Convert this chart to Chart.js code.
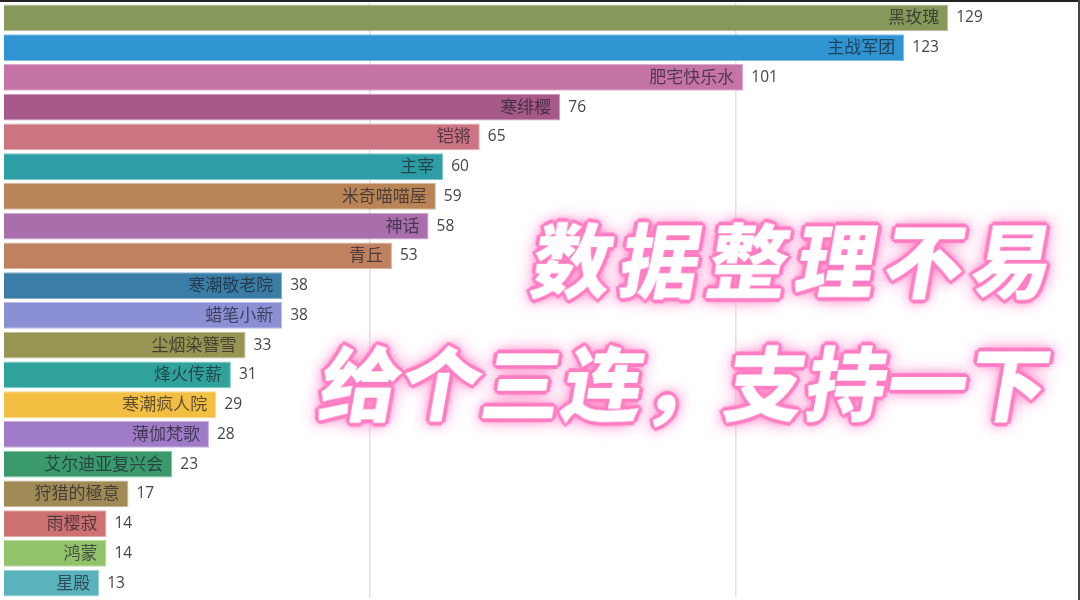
<!DOCTYPE html>
<html>
<head>
<meta charset="utf-8">
<script src="https://cdn.jsdelivr.net/npm/chart.js@4/dist/chart.umd.min.js"></script>
<style>
  html, body { margin: 0; padding: 0; background: #fff; }
  #wrap { position: relative; width: 1080px; height: 600px; overflow: hidden; }
  #c { position: absolute; left: 0; top: 0; }
  .frameTop { position: absolute; left: 0; top: 0; width: 1080px; height: 2px; background: #222; }
  .frameRight { position: absolute; right: 0; top: 0; width: 2px; height: 600px; background: #444; }
  .slogan {
    position: absolute;
    font-family: "Noto Sans CJK SC", sans-serif; font-weight: 900;
    font-size: 80px; line-height: 1; color: #fff; white-space: nowrap;
    transform: skewX(-10deg);
    text-shadow:
      3px 0 #ff7cc2, -3px 0 #ff7cc2, 0 3px #ff7cc2, 0 -3px #ff7cc2,
      2px 2px #ff7cc2, -2px -2px #ff7cc2, 2px -2px #ff7cc2, -2px 2px #ff7cc2,
      4px 1px #ff86c6, -4px -1px #ff86c6, 1px 4px #ff86c6, -1px -4px #ff86c6,
      0 0 10px #ff6fb8, 0 0 16px #ff8fcf, 0 0 22px #ffb0dc;
  }
  #s1 { top: 216px; right: 18px; letter-spacing: 8px; }
  #s2 { top: 339px; right: 29px; letter-spacing: 1px; }
</style>
</head>
<body>
<div id="wrap">
  <canvas id="c" width="1080" height="600"></canvas>
  <div class="frameTop"></div>
  <div class="frameRight"></div>
  <div class="slogan" id="s1">数据整理不易</div>
  <div class="slogan" id="s2">给个三连，支持一下</div>
</div>
<script>
const categories = ["黑玫瑰","主战军团","肥宅快乐水","寒绯樱","铠锵","主宰","米奇喵喵屋","神话","青丘","寒潮敬老院","蜡笔小新","尘烟染簪雪","烽火传薪","寒潮疯人院","薄伽梵歌","艾尔迪亚复兴会","狩猎的極意","雨樱寂","鸿蒙","星殿"];
const values = [129,123,101,76,65,60,59,58,53,38,38,33,31,29,28,23,17,14,14,13];
const barColors = ["#86995a","#2e95d2","#c674a8","#a75a89","#cc7482","#2e9ea6","#b98557","#a96fac","#c08161","#3a7ea8","#8b8fd4","#979551","#2fa39b","#f2bf43","#a07bc8","#3a9a6e","#a08a56","#cd7171","#93c26c","#5ab3bc"];
const gridTicks = [50, 100];

const labelPlugin = {
  id: 'barLabels',
  afterDatasetsDraw(chart) {
    const ctx = chart.ctx;
    const meta = chart.getDatasetMeta(0);
    ctx.save();
    ctx.textBaseline = 'middle';
    meta.data.forEach((bar, i) => {
      const p = bar.getProps(['x','y','base'], true);
      ctx.font = '17px "Noto Sans CJK SC", sans-serif';
      ctx.textAlign = 'right';
      ctx.fillStyle = 'rgba(30,30,40,0.7)';
      ctx.fillText(categories[i], p.x - 9, p.y - 1);
      ctx.font = '15.5px "Open Sans", "Noto Sans", sans-serif';
      ctx.textAlign = 'left';
      ctx.fillStyle = '#454545';
      ctx.fillText(String(values[i]), p.x + 8, p.y);
    });
    ctx.restore();
  }
};

new Chart(document.getElementById('c'), {
  type: 'bar',
  data: {
    labels: categories,
    datasets: [{
      data: values,
      backgroundColor: barColors,
      borderColor: barColors.map(c => c + '99'),
      borderWidth: 1,
      barPercentage: 0.9,
      categoryPercentage: 1.0
    }]
  },
  options: {
    indexAxis: 'y',
    responsive: false,
    animation: false,
    devicePixelRatio: 1,
    layout: { padding: { left: 4, top: 3, right: 0, bottom: 2 } },
    plugins: { legend: { display: false }, tooltip: { enabled: false } },
    scales: {
      x: {
        min: 0, max: 147,
        ticks: { display: false },
        border: { display: false },
        grid: { color: '#e2e2e2', lineWidth: 1.5, drawTicks: false },
        afterBuildTicks: (axis) => { axis.ticks = gridTicks.map(v => ({ value: v })); }
      },
      y: { display: false }
    }
  },
  plugins: [labelPlugin]
});
</script>
</body>
</html>
